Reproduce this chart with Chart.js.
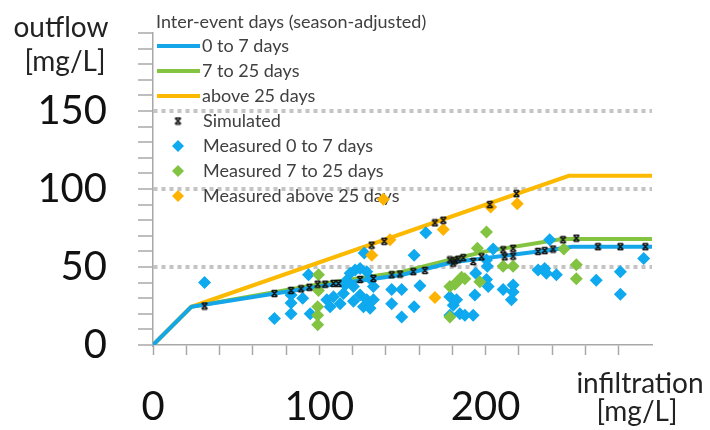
<!DOCTYPE html>
<html><head><meta charset="utf-8">
<script src="https://cdn.jsdelivr.net/npm/chart.js@4.4.0/dist/chart.umd.min.js"></script>
<style>html,body{margin:0;padding:0;background:#fff;}#wrap{width:710px;height:430px;position:relative;}</style>
</head><body><div id="wrap"><canvas id="c" width="710" height="430"></canvas></div>
<script>
// ---- text / tick labels ----
const xTickLabels = [0, 100, 200];
const yTickLabels = [0, 50, 100, 150];
const gridValues = [50, 100, 150];
const yTitle = ['outflow', '[mg/L]'];
const xTitle = ['infiltration', '[mg/L]'];
const legendTitle = 'Inter-event days (season-adjusted)';
const seriesNames = ['0 to 7 days', '7 to 25 days', 'above 25 days', 'Simulated',
  'Measured 0 to 7 days', 'Measured 7 to 25 days', 'Measured above 25 days'];

// ---- model lines ----
const lineBlueX = [0, 23, 100, 150, 180, 210, 240, 252, 300];
const lineBlueY = [0, 24.5, 37.5, 45, 53, 57, 61, 63, 63];
const lineGreenX = [0, 23, 100, 150, 180, 200, 246, 300];
const lineGreenY = [0, 24.5, 39, 47, 55, 60, 68, 68];
const lineOrangeX = [0, 23, 250, 300];
const lineOrangeY = [0, 24.5, 108.5, 108.5];

// ---- simulated points ----
const simX = [31, 73, 83, 89, 94, 99, 103.5, 108.5, 111.5, 124.5, 132.5, 131.5, 139, 143.5, 148.5, 156.5, 163.5, 169.5, 174.5,
  178.5, 180.5, 181.5, 183.5, 186.5, 192.5, 197.5, 202.5, 210.5, 211.5, 216.5, 216.5, 218.5, 231.5, 235.5, 240.5, 246.5, 254.5, 267.5, 281, 296];
const simY = [25, 33, 35, 36, 37, 39, 39, 39.5, 39.5, 42, 42.7, 64, 66.5, 45, 45.5, 47, 47.8, 78.3, 80,
  54.5, 52.5, 54, 55, 56, 53.5, 56.5, 90, 61, 56.5, 62, 57, 97, 60, 60.5, 61.5, 67.5, 68.5, 63, 63, 63];

// ---- measured points ----
const measBlueX = [31, 73, 83, 83, 83, 90, 93.5, 94.5, 104.5, 106.5, 108.5, 112.5, 114.5, 115.5, 116.5, 118.5, 120.5, 120.5, 121.5,
  124.5, 124.5, 126.5, 127, 128.5, 128.5, 130.5, 130.5, 132.5, 132.5, 143.5, 143.5, 149.5, 149.5, 157, 157, 160.5, 164,
  178.5, 178.5, 180.5, 182.5, 184.5, 187.5, 192.5, 193.5, 194, 200.5, 201, 200.5, 201.5, 204.5, 210.5, 215.5, 216.5, 216.5,
  231.5, 235.5, 236.5, 242.5, 238.5, 266.5, 281, 281, 295];
const measBlueY = [40, 17, 32, 27, 20, 30, 45, 20, 29, 24.5, 31, 26.5, 33, 38.5, 41.5, 46, 37.5, 28, 48,
  49, 32, 24.5, 59, 47, 29, 42.5, 23.5, 37.5, 29, 35.5, 26.5, 35.5, 18, 24.5, 57.5, 38, 72,
  31, 19, 25.5, 29, 20, 19, 19, 32, 46, 54.5, 50.5, 42, 37.5, 61.5, 35.5, 29, 38.5, 34,
  48, 49, 46, 45, 67.5, 41.5, 47, 32.5, 55.5];
const measGreenX = [99.5, 99.5, 99, 99, 99, 178.5, 181.5, 182.5, 185.5, 187.5, 196.5, 195, 200.5, 210.5, 216.5, 178.5, 247, 254.5, 254.5];
const measGreenY = [45, 35, 24.5, 19, 13, 37.5, 39, 40, 43.5, 42.5, 40.5, 62, 72.5, 50.5, 50.5, 18, 61.5, 51.5, 42.5];
const measOrangeX = [131.5, 138.5, 142.5, 169.5, 174.5, 203, 219];
const measOrangeY = [57.5, 93.5, 67.5, 30.5, 74, 88.5, 90.5];

const FONT = 'Lato, "Open Sans", sans-serif';
const BLUE = '#14a6e8', GREEN = '#84c441', ORANGE = '#fbb900';
const BLUE_PT = '#0ea9ee', GREEN_PT = '#82c341', ORANGE_PT = '#fdb300';
const AXIS = '#a8a8a8';

const pts = (xs, ys) => xs.map((x, i) => ({x: x, y: ys[i]}));

// simulated marker glyph (hourglass x)
function makeSimMarker(size) {
  const c = document.createElement('canvas');
  c.width = size; c.height = size;
  const g = c.getContext('2d');
  g.strokeStyle = '#111'; g.lineWidth = 1.5;
  const a = 1.5, b = size - 1.5;
  g.beginPath();
  g.moveTo(a, a); g.lineTo(b, b);
  g.moveTo(b, a); g.lineTo(a, b);
  g.moveTo(a + 0.5, a); g.lineTo(b - 0.5, a);
  g.moveTo(a + 0.5, b); g.lineTo(b - 0.5, b);
  g.stroke();
  return c;
}
const simMarker = makeSimMarker(9);

const overlay = {
  id: 'overlay',
  beforeDatasetsDraw(chart) {
    const ctx = chart.ctx;
    ctx.save();
    ctx.fillStyle = '#404040';
    ctx.font = '18px ' + FONT;
    ctx.textBaseline = 'alphabetic';
    ctx.textAlign = 'left';
    ctx.fillText(legendTitle, 156, 28);
    const rows = [46, 71, 96, 121, 146, 171, 196];
    const lineCols = [BLUE, GREEN, ORANGE];
    const ptCols = [BLUE_PT, GREEN_PT, ORANGE_PT];
    for (let i = 0; i < seriesNames.length; i++) {
      const y = rows[i];
      if (i < 3) {
        ctx.strokeStyle = lineCols[i]; ctx.lineWidth = 4;
        ctx.beginPath(); ctx.moveTo(157, y); ctx.lineTo(200, y); ctx.stroke();
      } else if (i === 3) {
        ctx.drawImage(simMarker, 178 - 4.5, y - 4.5);
      } else {
        const c = ptCols[i - 4];
        ctx.fillStyle = c;
        ctx.beginPath();
        ctx.moveTo(178, y - 6); ctx.lineTo(184, y); ctx.lineTo(178, y + 6); ctx.lineTo(172, y);
        ctx.closePath(); ctx.fill();
      }
      ctx.fillStyle = '#404040';
      ctx.fillText(seriesNames[i], i < 3 ? 202 : 203, y + 6);
    }
    ctx.restore();
  },
  afterDraw(chart) {
    const ctx = chart.ctx;
    ctx.save();
    ctx.fillStyle = '#222';
    ctx.font = '28px ' + FONT;
    ctx.textAlign = 'center';
    ctx.textBaseline = 'alphabetic';
    ctx.fillText(yTitle[0], 61, 37);
    ctx.fillText(yTitle[1], 65, 71);
    ctx.fillText(xTitle[0], 640, 393);
    ctx.fillText(xTitle[1], 637, 421);
    ctx.restore();
  }
};

new Chart(document.getElementById('c'), {
  type: 'scatter',
  data: {
    datasets: [
      {label: seriesNames[3], data: pts(simX, simY), pointStyle: simMarker, pointRadius: 4.5, showLine: false},
      {label: seriesNames[6], data: pts(measOrangeX, measOrangeY), pointStyle: 'rectRot', pointRadius: 6.5, backgroundColor: ORANGE_PT, borderWidth: 0, showLine: false},
      {label: seriesNames[5], data: pts(measGreenX, measGreenY), pointStyle: 'rectRot', pointRadius: 6.5, backgroundColor: GREEN_PT, borderWidth: 0, showLine: false},
      {label: seriesNames[4], data: pts(measBlueX, measBlueY), pointStyle: 'rectRot', pointRadius: 6.5, backgroundColor: BLUE_PT, borderWidth: 0, showLine: false},
      {label: seriesNames[0], data: pts(lineBlueX, lineBlueY), showLine: true, borderColor: BLUE, borderWidth: 4, pointRadius: 0, tension: 0},
      {label: seriesNames[1], data: pts(lineGreenX, lineGreenY), showLine: true, borderColor: GREEN, borderWidth: 4, pointRadius: 0, tension: 0},
      {label: seriesNames[2], data: pts(lineOrangeX, lineOrangeY), showLine: true, borderColor: ORANGE, borderWidth: 4, pointRadius: 0, tension: 0}
    ]
  },
  options: {
    responsive: false,
    animation: false,
    devicePixelRatio: 1,
    layout: {autoPadding: false, padding: {top: 33, right: 58, left: 0, bottom: 0}},
    plugins: {legend: {display: false}, tooltip: {enabled: false}},
    scales: {
      x: {
        type: 'linear', position: 'bottom', min: 0, max: 300,
        afterFit(s) { s.height = 85; s.paddingLeft = 0; s.paddingRight = 0; },
        ticks: {
          stepSize: 20, autoSkip: false, maxRotation: 0, minRotation: 0, padding: 28,
          font: {size: 40, family: FONT}, color: '#111',
          callback: v => xTickLabels.includes(v) ? String(v) : ''
        },
        grid: {
          drawOnChartArea: false, drawTicks: true, tickLength: 10, tickWidth: 1.5,
          tickColor: ctx => (ctx.tick && ctx.tick.value === 300) ? 'rgba(0,0,0,0)' : AXIS
        },
        border: {color: AXIS, width: 1.5}
      },
      y: {
        type: 'linear', min: 0, max: 200,
        afterFit(s) { s.width = 153; s.paddingTop = 0; s.paddingBottom = 0; },
        ticks: {
          stepSize: 10, autoSkip: false, padding: 31,
          font: {size: 40, family: FONT}, color: '#111',
          callback: v => yTickLabels.includes(v) ? String(v) : ''
        },
        grid: {
          drawOnChartArea: true, drawTicks: true, tickLength: 15, tickWidth: 1.5, tickColor: AXIS,
          lineWidth: 4, tickBorderDash: [],
          color: ctx => (ctx.tick && gridValues.includes(ctx.tick.value)) ? '#c4c4c4' : 'rgba(0,0,0,0)'
        },
        border: {color: AXIS, width: 1.5, dash: [4, 4]}
      }
    }
  },
  plugins: [overlay]
});
</script>
</body></html>
